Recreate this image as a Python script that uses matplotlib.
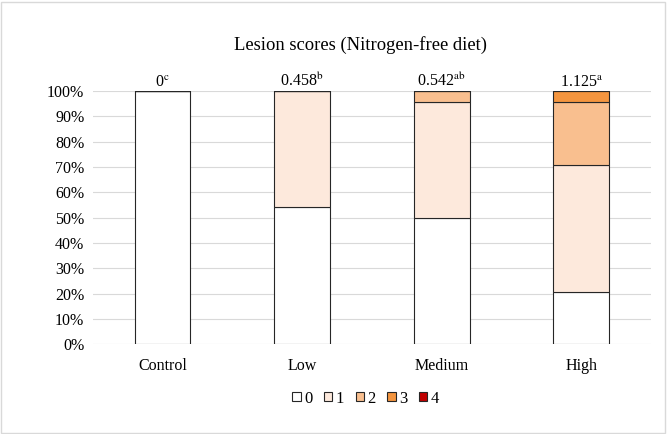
import numpy as np
import matplotlib.pyplot as plt
from matplotlib.patches import Rectangle

plt.rcParams['font.family'] = ['Liberation Serif', 'DejaVu Serif']
plt.rcParams['mathtext.fontset'] = 'stix'

groups = ["Control", "Low", "Medium", "High"]
score_labels = ["0", "1", "2", "3", "4"]
# percentage of birds per lesion score
score0 = [100, 54.2, 50.0, 20.8]
score1 = [0, 45.8, 45.8, 50.0]
score2 = [0, 0, 4.2, 25.0]
score3 = [0, 0, 0, 4.2]
score4 = [0, 0, 0, 0]
means = ["0", "0.458", "0.542", "1.125"]
letters = ["c", "b", "ab", "a"]
colors = ["#FFFFFF", "#FDE9DC", "#F9BF8F", "#F4953F", "#C00000"]

fig = plt.figure(figsize=(6.67, 4.34), dpi=100)
ax = fig.add_axes([0.139, 0.207, 0.837, 0.583])

x = np.arange(len(groups))
bottom = np.zeros(len(groups))
for vals, col, lab in zip([score0, score1, score2, score3, score4], colors, score_labels):
    vals = np.array(vals)
    ax.bar(x, vals, 0.4, bottom=bottom, color=col, edgecolor="#262626",
           linewidth=0.8, label=lab, zorder=3)
    bottom += vals

for xi, m, l in zip(x, means, letters):
    ax.text(xi, 102, m + r"$^{\mathrm{" + l + "}}$", ha="center", va="baseline", fontsize=11.5)

ax.set_xlim(-0.5, 3.5)
ax.set_ylim(0, 100)
ax.set_yticks(np.arange(0, 101, 10))
ax.set_yticklabels([f"{v}%" for v in range(0, 101, 10)])
ax.set_xticks(x)
ax.set_xticklabels(groups)
ax.tick_params(length=0, labelsize=11.5, pad=6)
ax.tick_params(axis="x", pad=10)
ax.grid(axis="y", color="#D9D9D9", linewidth=0.8, zorder=0)
for s in ax.spines.values():
    s.set_visible(False)

fig.text(0.541, 0.896, "Lesion scores (Nitrogen-free diet)", ha="center", va="center", fontsize=13.4)

ax.legend(loc="center", bbox_to_anchor=(0.489, -0.215), ncol=5, frameon=False,
          fontsize=12, handlelength=0.5, handleheight=0.5, handletextpad=0.2,
          columnspacing=0.7)

fig.patches.append(Rectangle((0.002, 0.003), 0.995, 0.993, transform=fig.transFigure,
                             fill=False, edgecolor="#D9D9D9", linewidth=1))

fig.savefig("out.png", dpi=100)
